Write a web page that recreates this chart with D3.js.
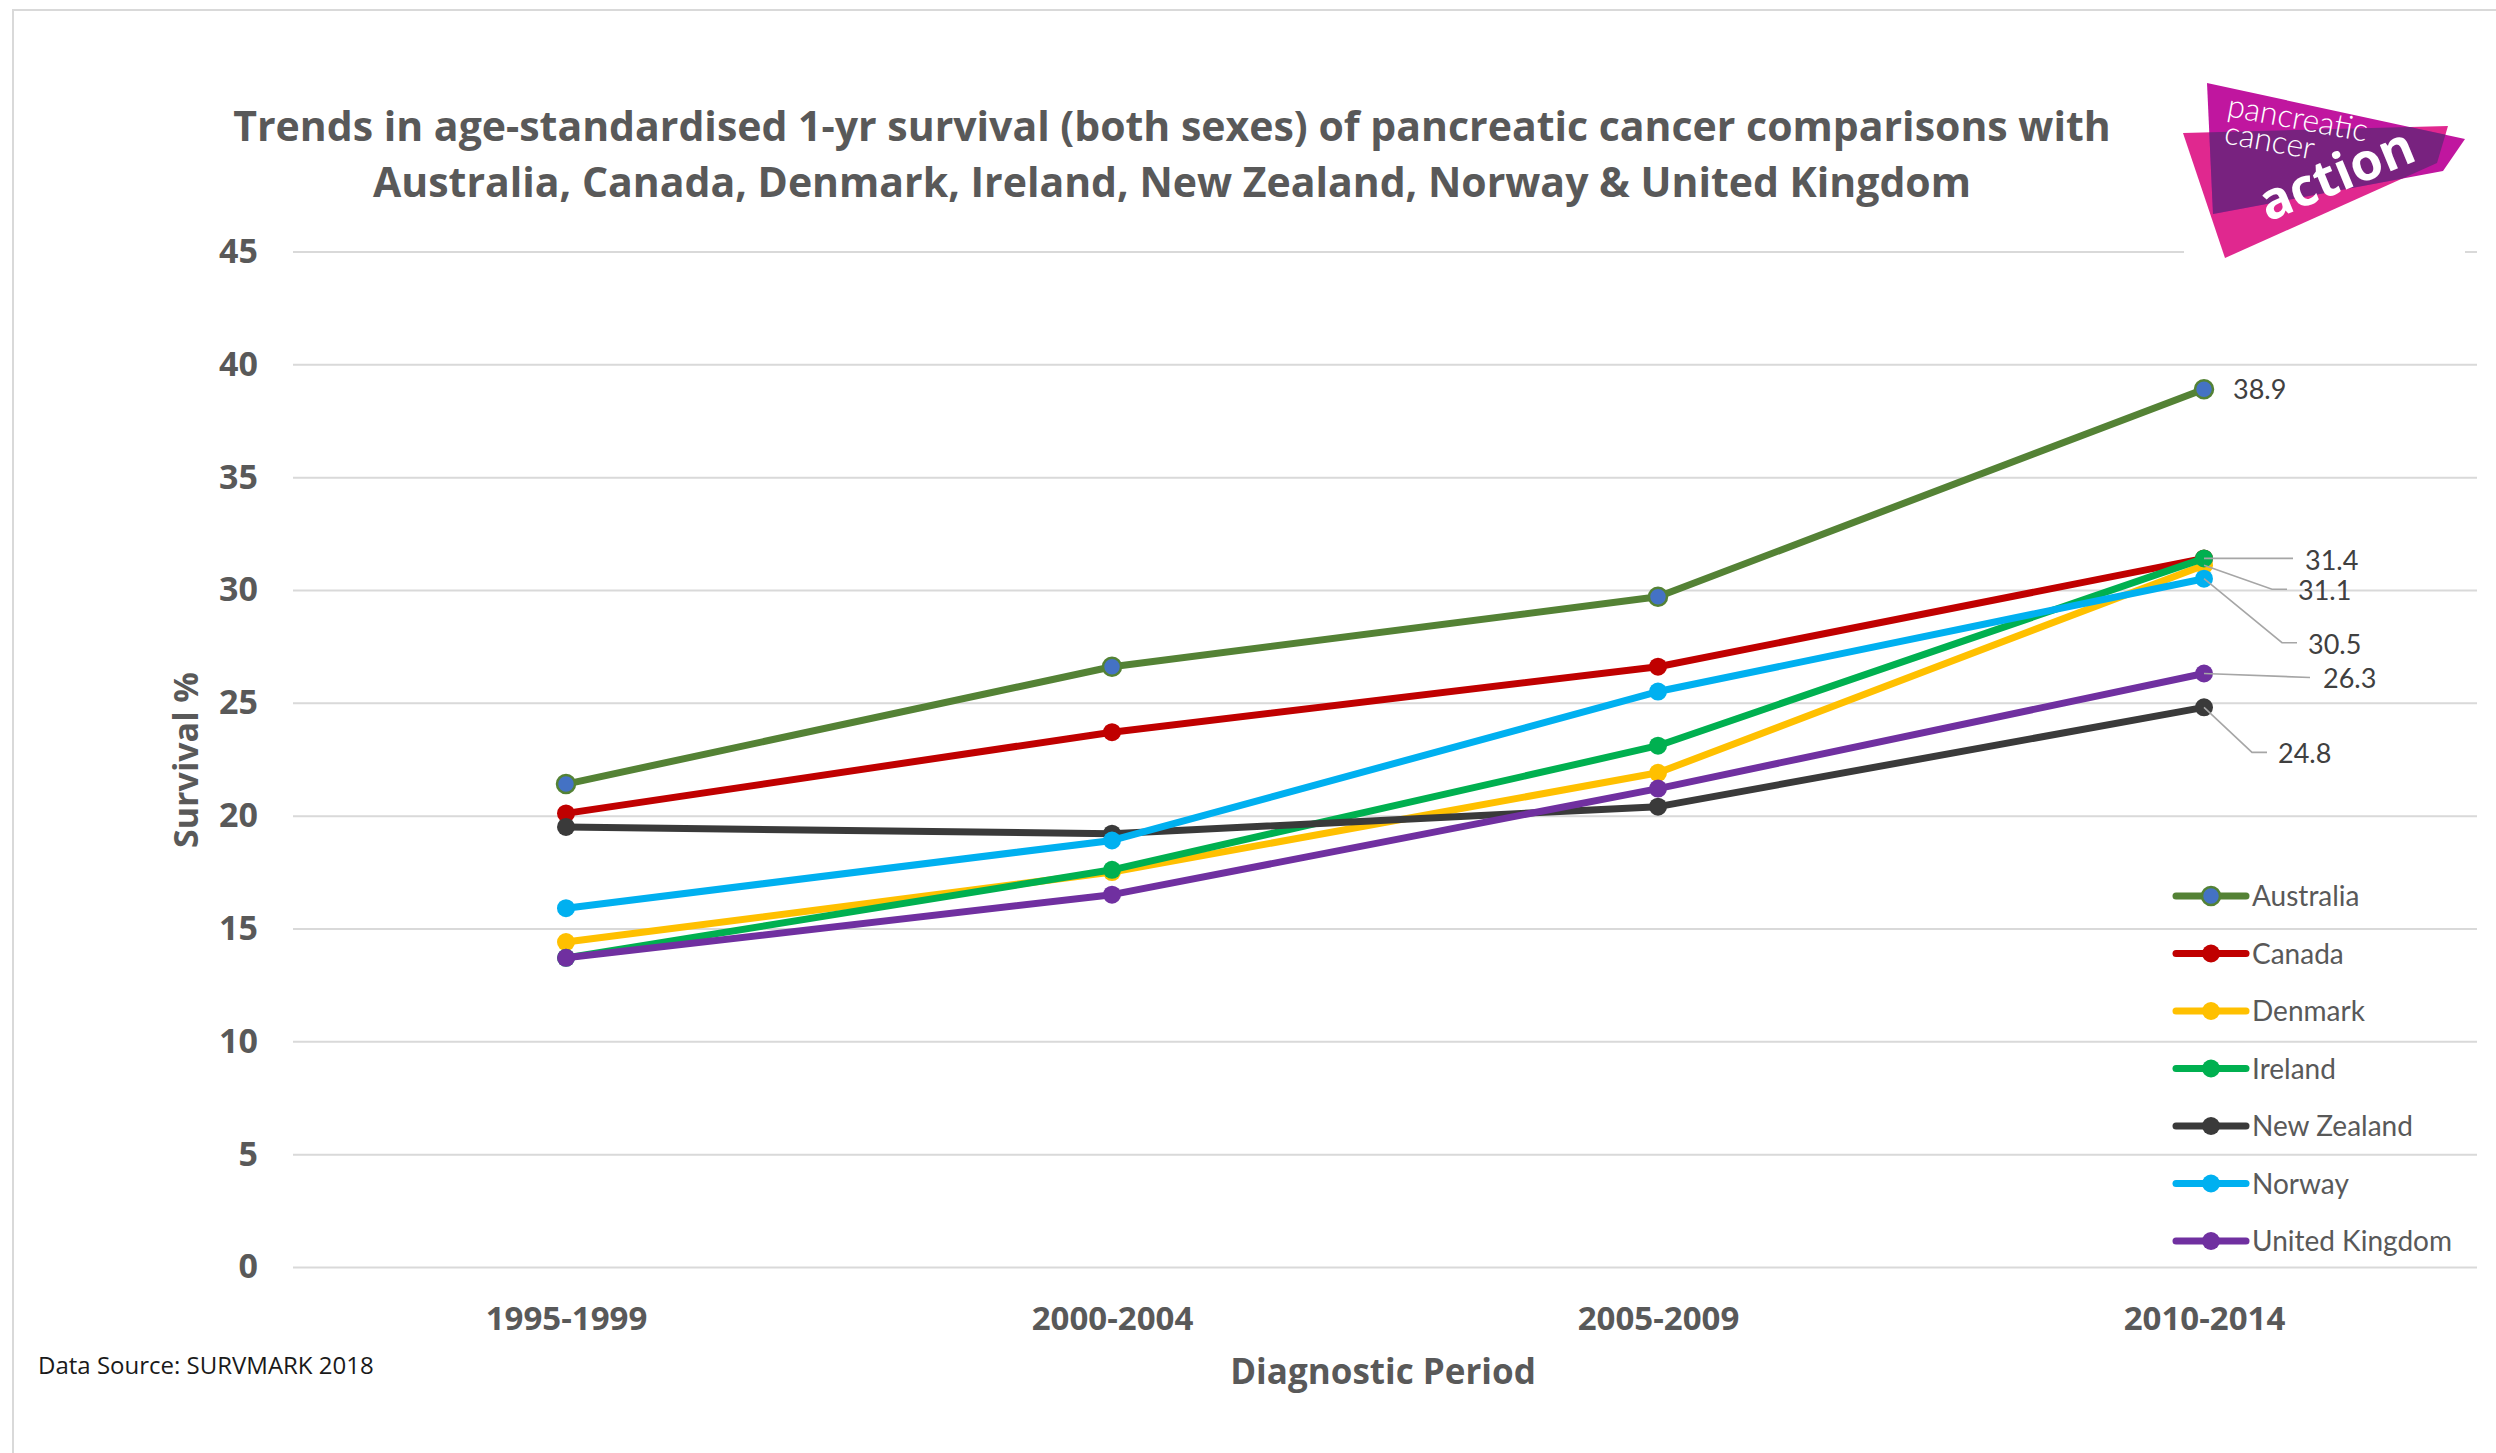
<!DOCTYPE html>
<html>
<head>
<meta charset="utf-8">
<script src="https://cdn.jsdelivr.net/npm/d3@7/dist/d3.min.js"></script>
<style>
  html, body { margin: 0; padding: 0; background: #fff; }
  svg text { font-family: "Open Sans", "DejaVu Sans", sans-serif; }
  .tick line { stroke: #d9d9d9; stroke-width: 2; }
  .lbl { font-family: Lato, "Open Sans", sans-serif; }
</style>
</head>
<body>
<svg id="chartSVG" width="2496" height="1453"></svg>
<script>
// ---- data ----
var periods = ["1995-1999", "2000-2004", "2005-2009", "2010-2014"];
var countries = ["Australia", "Canada", "Denmark", "Ireland", "New Zealand", "Norway", "United Kingdom"];
var australia = [21.4, 26.6, 29.7, 38.9];
var canada = [20.1, 23.7, 26.6, 31.4];
var denmark = [14.4, 17.5, 21.9, 31.1];
var ireland = [13.7, 17.6, 23.1, 31.4];
var newZealand = [19.5, 19.2, 20.4, 24.8];
var norway = [15.9, 18.9, 25.5, 30.5];
var unitedKingdom = [13.7, 16.5, 21.2, 26.3];
var yTicks = [0, 5, 10, 15, 20, 25, 30, 35, 40, 45];
// series that get a value label on the last period
var labelled = ["Australia", "Ireland", "Denmark", "Norway", "United Kingdom", "New Zealand"];

var values = [australia, canada, denmark, ireland, newZealand, norway, unitedKingdom];
var colors = ["#548235", "#c00000", "#ffc000", "#00b050", "#3a3a3a", "#00b0f0", "#7030a0"];

var series = countries.map(function(c, i) {
  return { id: c, color: colors[i], values: values[i].map(function(v, j) { return { period: periods[j], val: v }; }) };
});

var svg = d3.select("#chartSVG");

// frame
svg.append("rect").attr("x", 13).attr("y", 10).attr("width", 2520).attr("height", 1480)
  .attr("fill", "none").attr("stroke", "#d9d9d9").attr("stroke-width", 2);

var plotLeft = 293, plotRight = 2477, plotTop = 251.5, plotBottom = 1267;

var x = d3.scalePoint().domain(periods).range([plotLeft, plotRight]).padding(0.5),
    y = d3.scaleLinear().domain([0, 45]).range([plotBottom, plotTop]);

// y axis + gridlines
var gy = svg.append("g")
    .attr("transform", "translate(" + plotLeft + ",0)")
    .call(d3.axisLeft(y).tickValues(yTicks).tickSize(-(plotRight - plotLeft)).tickPadding(35));
gy.select(".domain").remove();
gy.selectAll("text")
    .attr("fill", "#595959")
    .style("font-size", "34px")
    .style("font-weight", "700")
    .style("font-family", "'Open Sans', sans-serif");

// x axis
var gx = svg.append("g")
    .attr("transform", "translate(0," + plotBottom + ")")
    .call(d3.axisBottom(x).tickSize(0).tickPadding(40));
gx.select(".domain").remove();
gx.selectAll("text")
    .attr("fill", "#595959")
    .style("font-size", "33px")
    .style("font-weight", "700")
    .style("font-family", "'Open Sans', sans-serif");

// titles
var title = svg.append("text")
    .attr("text-anchor", "middle")
    .attr("fill", "#595959")
    .style("font-size", "41px")
    .style("font-weight", "700");
title.append("tspan").attr("x", 1172).attr("y", 141)
    .text("Trends in age-standardised 1-yr survival (both sexes) of pancreatic cancer comparisons with");
title.append("tspan").attr("x", 1172).attr("y", 197)
    .text("Australia, Canada, Denmark, Ireland, New Zealand, Norway & United Kingdom");

svg.append("text")
    .attr("transform", "translate(198,760) rotate(-90)")
    .attr("text-anchor", "middle")
    .attr("fill", "#595959")
    .style("font-size", "34px")
    .style("font-weight", "700")
    .text("Survival %");

svg.append("text")
    .attr("x", 1383).attr("y", 1384)
    .attr("text-anchor", "middle")
    .attr("fill", "#595959")
    .style("font-size", "35px")
    .style("font-weight", "700")
    .text("Diagnostic Period");

svg.append("text")
    .attr("x", 38).attr("y", 1374)
    .attr("fill", "#1a1a1a")
    .style("font-size", "24px")
    .text("Data Source: SURVMARK 2018");

// lines
var line = d3.line()
    .x(function(d) { return x(d.period); })
    .y(function(d) { return y(d.val); });

var ser = svg.selectAll(".ser")
    .data(series)
    .enter().append("g")
    .attr("class", "ser");

ser.append("path")
    .attr("d", function(d) { return line(d.values); })
    .attr("fill", "none")
    .attr("stroke", function(d) { return d.color; })
    .attr("stroke-width", 7)
    .attr("stroke-linejoin", "round")
    .attr("stroke-linecap", "round");

ser.selectAll("circle")
    .data(function(d) { return d.values.map(function(v) { return { s: d, v: v }; }); })
    .enter().append("circle")
    .attr("cx", function(d) { return x(d.v.period); })
    .attr("cy", function(d) { return y(d.v.val); })
    .attr("r", 9)
    .attr("fill", function(d) { return d.s.id == "Australia" ? "#4472c4" : d.s.color; })
    .attr("stroke", function(d) { return d.s.id == "Australia" ? d.s.color : "none"; })
    .attr("stroke-width", 2.5);

// end labels with leader lines (offsets from the last marker)
var labelPos = {
  "Australia":      { tx: 29,  ty: 0,  lead: null },
  "Ireland":        { tx: 101, ty: 2,  lead: [[0, 0], [89, 0]] },
  "Denmark":        { tx: 94,  ty: 25, lead: [[0, 0], [68, 24], [83, 24]] },
  "Norway":         { tx: 104, ty: 66, lead: [[0, 0], [78, 64], [93, 64]] },
  "United Kingdom": { tx: 119, ty: 5,  lead: [[0, 0], [106, 4]] },
  "New Zealand":    { tx: 74,  ty: 46, lead: [[0, 0], [48, 45], [63, 45]] }
};
var last = periods[periods.length - 1];
labelled.forEach(function(name) {
  var s = series[countries.indexOf(name)];
  var v = s.values[s.values.length - 1].val;
  var px = x(last), py = y(v), p = labelPos[name];
  if (p.lead) {
    svg.append("path")
      .attr("d", d3.line()(p.lead.map(function(q) { return [px + q[0], py + q[1]]; })))
      .attr("fill", "none")
      .attr("stroke", "#a6a6a6")
      .attr("stroke-width", 1.6);
  }
  svg.append("text")
    .attr("class", "lbl")
    .attr("x", px + p.tx).attr("y", py + p.ty)
    .attr("dy", "0.36em")
    .attr("fill", "#404040")
    .style("font-size", "27px")
    .text(v.toFixed(1));
});

// legend
var lg = svg.selectAll(".lg")
    .data(series)
    .enter().append("g")
    .attr("class", "lg")
    .attr("transform", function(d, i) { return "translate(2176," + (896 + i * 57.5) + ")"; });
lg.append("line")
    .attr("x1", 0).attr("x2", 70)
    .attr("stroke", function(d) { return d.color; })
    .attr("stroke-width", 7)
    .attr("stroke-linecap", "round");
lg.append("circle")
    .attr("cx", 35).attr("r", 9)
    .attr("fill", function(d) { return d.id == "Australia" ? "#4472c4" : d.color; })
    .attr("stroke", function(d) { return d.id == "Australia" ? d.color : "none"; })
    .attr("stroke-width", 2.5);
lg.append("text")
    .attr("class", "lbl")
    .attr("x", 76).attr("dy", "0.36em")
    .attr("fill", "#595959")
    .style("font-size", "28px")
    .text(function(d) { return d.id; });

// logo
var logo = svg.append("g");
logo.append("rect").attr("x", 2184).attr("y", 70).attr("width", 281).attr("height", 195).attr("fill", "#fff");
var triA = [[2207, 83], [2465, 139], [2443, 171], [2213, 214]],
    triB = [[2183, 133], [2448, 126], [2437, 163], [2225, 258]];
var defs = svg.append("defs");
defs.append("clipPath").attr("id", "clipB")
    .append("polygon").attr("points", triB.join(" "));
logo.append("polygon").attr("points", triB.join(" ")).attr("fill", "#e0288f");
logo.append("polygon").attr("points", triA.join(" ")).attr("fill", "#c0169f");
logo.append("polygon").attr("points", triA.join(" ")).attr("fill", "#78227f").attr("clip-path", "url(#clipB)");
logo.append("text")
    .attr("transform", "translate(2226,116) rotate(10.5)")
    .attr("fill", "#fff")
    .style("font-size", "32px")
    .style("font-weight", "300")
    .style("font-family", "Lato, sans-serif")
    .text("pancreatic");
logo.append("text")
    .attr("transform", "translate(2223,143) rotate(10.5)")
    .attr("fill", "#fff")
    .style("font-size", "32px")
    .style("font-weight", "300")
    .style("font-family", "Lato, sans-serif")
    .text("cancer");
logo.append("text")
    .attr("transform", "translate(2268,222) rotate(-22.5)")
    .attr("fill", "#fff")
    .style("font-size", "52px")
    .style("font-weight", "700")
    .style("font-family", "'Open Sans', sans-serif")
    .text("action");
</script>
</body>
</html>
